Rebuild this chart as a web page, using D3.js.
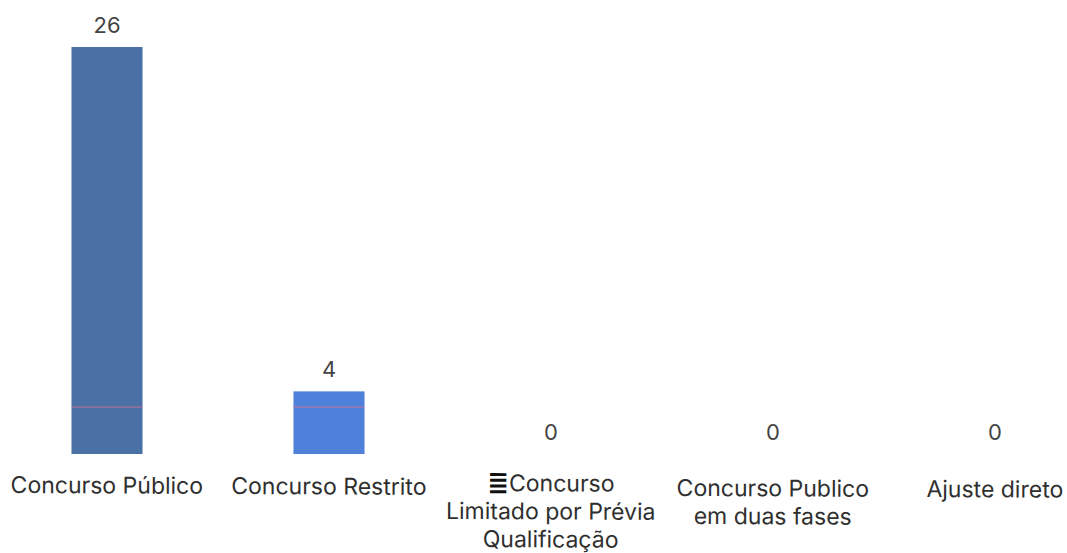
<!DOCTYPE html>
<html>
<head>
    <meta charset="utf-8">
    <title>Concurso</title>
    <script src="https://d3js.org/d3.v7.min.js"></script>
    <style>
        body { margin: 0; background: #fff; }
        text { font-family: Inter, sans-serif; }
    </style>
</head>
<body>
    <svg id="graph" width="1067" height="553"></svg>
    <script>
        const categories = ["Concurso Público", "Concurso Restrito", "Concurso Limitado", "Concurso Publico 2f", "Ajuste direto"];
        const values = [26, 4, 0, 0, 0];
        const barColors = ["#4b70a6", "#4f80da", "#4f80da", "#4f80da", "#4f80da"];
        // the wrapped lines of each tick label
        const tickLines = [
            ["Concurso Público"],
            ["Concurso Restrito"],
            ["≣Concurso", "Limitado por Prévia", "Qualificação"],
            ["Concurso Publico", "em duas fases"],
            ["Ajuste direto"]
        ];
        const blockGlyph = "≣";
        // the faint pink line that crosses the two bars in the picture
        const ruleValue = 3;

        let svg = d3.select("svg#graph");

        const xScale = d3.scaleBand().domain(categories).range([-4, 1106]).paddingInner(0.68).paddingOuter(0.34);
        const yScale = d3.scaleLinear().domain([0, 26]).range([454, 47]);

        // bars
        svg.selectAll("rect.bar").data(values)
            .join("rect")
            .attr("class", "bar")
            .attr("x", (d, i) => xScale(categories[i]))
            .attr("y", d => yScale(d))
            .attr("width", xScale.bandwidth())
            .attr("height", d => yScale(0) - yScale(d))
            .style("fill", (d, i) => barColors[i]);

        // pink rule, only where a bar is tall enough
        svg.selectAll("line.rule").data(values.filter(d => d > ruleValue))
            .join("line")
            .attr("class", "rule")
            .attr("x1", (d, i) => xScale(categories[i]))
            .attr("x2", (d, i) => xScale(categories[i]) + xScale.bandwidth())
            .attr("y1", yScale(ruleValue))
            .attr("y2", yScale(ruleValue))
            .style("stroke", "#c0749a")
            .style("stroke-width", 1);

        // value labels
        svg.selectAll("text.value").data(values)
            .join("text")
            .attr("class", "value")
            .attr("x", (d, i) => xScale(categories[i]) + xScale.bandwidth() / 2)
            .attr("y", d => yScale(d) - 14)
            .attr("text-anchor", "middle")
            .style("font-size", "22px")
            .style("fill", "#444")
            .text(d => d);

        // bottom axis, ticks rewritten as wrapped lines
        let bottomAxis = d3.axisBottom(xScale).tickSize(0).tickFormat("");
        let axis = svg.append("g")
            .attr("class", "x axis")
            .attr("transform", "translate(0, 454) rotate(0.25)") // the scan sits slightly crooked
            .call(bottomAxis);
        axis.select(".domain").remove();
        axis.selectAll(".tick text").remove();

        axis.selectAll(".tick").each(function (d, i) {
            let label = d3.select(this).append("text")
                .attr("text-anchor", "middle")
                .style("font-size", "23px")
                .style("fill", "#2f2f2f");
            const firstRow = tickLines[i].length > 2 ? 35 : 39; // three rows have to fit the page
            tickLines[i].forEach((line, j) => {
                let row = label.append("tspan")
                    .attr("x", 0)
                    .attr("y", firstRow + j * 28);
                if (line.startsWith(blockGlyph)) {
                    row.append("tspan")
                        .style("font-family", "DejaVu Sans")
                        .style("font-weight", "bold")
                        .style("font-size", "26px")
                        .style("fill", "#111")
                        .text(blockGlyph);
                    row.append("tspan").text(line.slice(blockGlyph.length));
                } else {
                    row.text(line);
                }
            });
        });
    </script>
</body>
</html>
